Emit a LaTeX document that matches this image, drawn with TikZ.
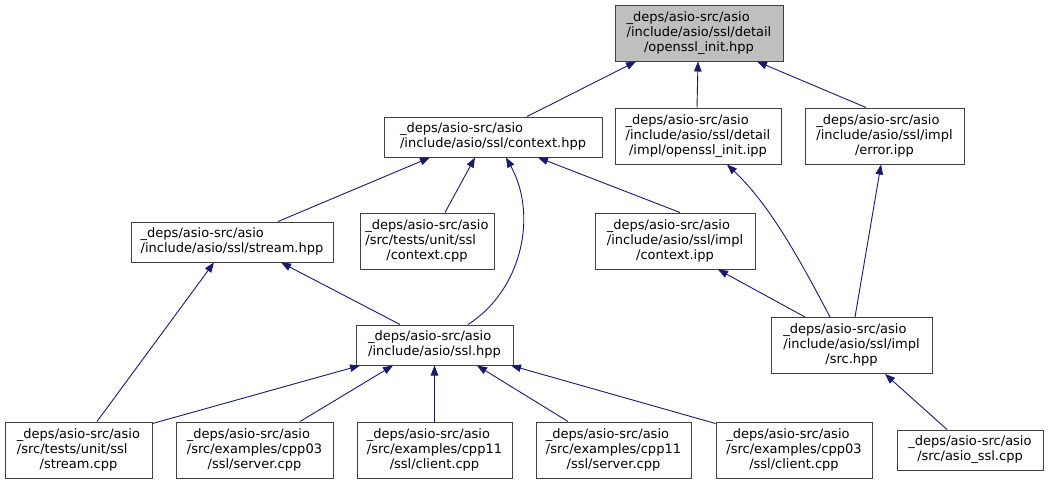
\documentclass[tikz,border=0pt]{standalone}
\usepackage{fontspec}
\setmainfont{DejaVu Sans}
\usetikzlibrary{arrows.meta}
\definecolor{edgeblue}{HTML}{191970}
\definecolor{boxline}{HTML}{404040}
\definecolor{focusfill}{HTML}{BFBFBF}
% file label: leading lines flush left, last line centred
\newcommand{\flabel}[2]{\begin{tabular}{@{}l@{}}#1\\\multicolumn{1}{@{}c@{}}{#2}\end{tabular}}
\begin{document}
\begin{tikzpicture}[x=1pt,y=-1pt,
  file/.style={draw=boxline, line width=1pt, fill=white, inner sep=0pt,
    font=\fontsize{13}{15}\selectfont},
  incl/.style={draw=edgeblue, line width=0.9pt,
    -{Triangle[length=10pt,width=7.5pt]}, edgeblue}]
\fill[white, use as bounding box] (0,0) rectangle (1049,483);

% files
\node[file, fill=focusfill, minimum width=168pt, minimum height=56pt] (hpp) at (699,33)
  {\flabel{\_deps/asio-src/asio\\/include/asio/ssl/detail}{/openssl\_init.hpp}};
\node[file, minimum width=218pt, minimum height=40pt] (ctx) at (493,137)
  {\flabel{\_deps/asio-src/asio}{/include/asio/ssl/context.hpp}};
\node[file, minimum width=166pt, minimum height=56pt] (oipp) at (698,136)
  {\flabel{\_deps/asio-src/asio\\/include/asio/ssl/detail}{/impl/openssl\_init.ipp}};
\node[file, minimum width=159pt, minimum height=56pt] (err) at (884.5,136)
  {\flabel{\_deps/asio-src/asio\\/include/asio/ssl/impl}{/error.ipp}};
\node[file, minimum width=202pt, minimum height=40pt] (strm) at (232,242)
  {\flabel{\_deps/asio-src/asio}{/include/asio/ssl/stream.hpp}};
\node[file, minimum width=134pt, minimum height=56pt] (ctxcpp) at (427,241)
  {\flabel{\_deps/asio-src/asio\\/src/tests/unit/ssl}{/context.cpp}};
\node[file, minimum width=160pt, minimum height=56pt] (ctxipp) at (675,241)
  {\flabel{\_deps/asio-src/asio\\/include/asio/ssl/impl}{/context.ipp}};
\node[file, minimum width=157pt, minimum height=40pt] (ssl) at (434.5,345)
  {\flabel{\_deps/asio-src/asio}{/include/asio/ssl.hpp}};
\node[file, minimum width=161pt, minimum height=56pt] (src) at (851.5,345.5)
  {\flabel{\_deps/asio-src/asio\\/include/asio/ssl/impl}{/src.hpp}};
\node[file, minimum width=147pt, minimum height=56pt] (scpp) at (78.5,450)
  {\flabel{\_deps/asio-src/asio\\/src/tests/unit/ssl}{/stream.cpp}};
\node[file, minimum width=157pt, minimum height=56pt] (s03) at (254.5,450)
  {\flabel{\_deps/asio-src/asio\\/src/examples/cpp03}{/ssl/server.cpp}};
\node[file, minimum width=155pt, minimum height=56pt] (c11) at (434.5,450)
  {\flabel{\_deps/asio-src/asio\\/src/examples/cpp11}{/ssl/client.cpp}};
\node[file, minimum width=155pt, minimum height=56pt] (s11) at (613.5,450)
  {\flabel{\_deps/asio-src/asio\\/src/examples/cpp11}{/ssl/server.cpp}};
\node[file, minimum width=156pt, minimum height=56pt] (c03) at (794,450)
  {\flabel{\_deps/asio-src/asio\\/src/examples/cpp03}{/ssl/client.cpp}};
\node[file, minimum width=146pt, minimum height=40pt] (asio) at (970,450)
  {\flabel{\_deps/asio-src/asio}{/src/asio\_ssl.cpp}};

% include relations (arrow points at the included file)
\draw[incl] ([xshift=34pt]ctx.north) -- ([xshift=-63pt]hpp.south);
\draw[incl] ([xshift=-1pt]oipp.north) -- ([xshift=-1pt]hpp.south);
\draw[incl] ([xshift=-18.5pt]err.north) -- ([xshift=58pt]hpp.south);

\draw[incl] ([xshift=46pt]strm.north) -- ([xshift=-63pt]ctx.south);
\draw[incl] ([xshift=18pt]ctxcpp.north) -- ([xshift=-18pt]ctx.south);
\draw[incl] ([xshift=33.5pt]ssl.north) .. controls (522,290) and (538,215) .. ([xshift=13pt]ctx.south);
\draw[incl] ([xshift=5pt]ctxipp.north) -- ([xshift=45pt]ctx.south);

\draw[incl] ([xshift=18.5pt]scpp.north) -- ([xshift=-18pt]strm.south);
\draw[incl] ([xshift=-34.5pt]ssl.north) -- ([xshift=49pt]strm.south);

\draw[incl] ([xshift=-21.5pt]src.north) .. controls (800,260) and (770,205) .. ([xshift=29pt]oipp.south);
\draw[incl] ([xshift=-46.5pt]src.north) -- ([xshift=43pt]ctxipp.south);
\draw[incl] ([xshift=3.5pt]src.north) -- ([xshift=-3.5pt]err.south);

\draw[incl] ([yshift=-2pt]scpp.north east) -- ([xshift=-74.5pt]ssl.south);
\draw[incl] ([xshift=45.5pt]s03.north) -- ([xshift=-41.5pt]ssl.south);
\draw[incl] (c11.north) -- (ssl.south);
\draw[incl] ([xshift=-45.5pt]s11.north) -- ([xshift=42.5pt]ssl.south);
\draw[incl] ([yshift=-2pt]c03.north west) -- ([xshift=76.5pt]ssl.south);

\draw[incl] ([xshift=-23pt]asio.north) -- ([xshift=33.5pt]src.south);
\end{tikzpicture}
\end{document}
